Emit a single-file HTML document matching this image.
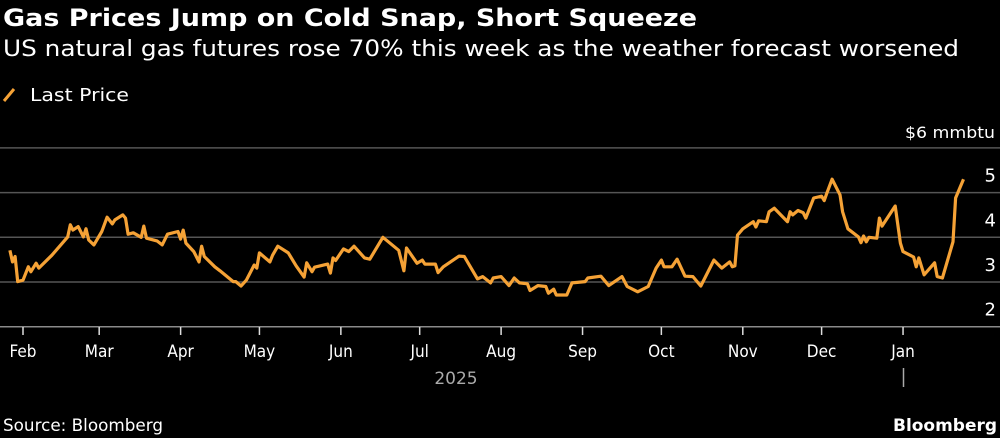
<!DOCTYPE html>
<html><head><meta charset="utf-8"><style>
html,body{margin:0;padding:0;background:#000;width:1000px;height:438px;overflow:hidden;font-family:"Liberation Sans","DejaVu Sans",sans-serif;color:#fff}
svg{position:absolute;left:0;top:0}
</style></head><body>
<svg width="1000" height="438" viewBox="0 0 1000 438">
<text x="3" y="26" font-size="24" font-weight="bold" fill="#fff" font-family="DejaVu Sans, sans-serif" textLength="694" lengthAdjust="spacingAndGlyphs">Gas Prices Jump on Cold Snap, Short Squeeze</text>
<text x="3" y="56" font-size="22" fill="#fff" font-family="DejaVu Sans, sans-serif" textLength="956" lengthAdjust="spacingAndGlyphs">US natural gas futures rose 70% this week as the weather forecast worsened</text>
<g>
<line x1="4" y1="101" x2="14" y2="89" stroke="#f5a236" stroke-width="3"/>
<text x="30" y="101" font-size="18" fill="#fff" font-family="DejaVu Sans, sans-serif" textLength="99" lengthAdjust="spacingAndGlyphs">Last Price</text>
</g>
<text x="905" y="138" font-size="16" fill="#fff" font-family="DejaVu Sans, sans-serif" textLength="90" lengthAdjust="spacingAndGlyphs">$6 mmbtu</text>
<g id="grid"></g>
<g id="yl"></g>
<g id="xl"></g>
<path id="line" fill="none" stroke="#f5a236" stroke-width="3.2" stroke-linejoin="round"/>
<text x="456" y="384" font-size="17" fill="#aaa" text-anchor="middle" font-family="DejaVu Sans, sans-serif">2025</text>
<line x1="903.5" y1="368" x2="903.5" y2="387" stroke="#aaa" stroke-width="1.5"/>
<text x="3" y="431" font-size="17" fill="#fff" font-family="DejaVu Sans, sans-serif" textLength="160" lengthAdjust="spacingAndGlyphs">Source: Bloomberg</text>
<text x="893" y="431" font-size="17" font-weight="bold" fill="#fff" font-family="DejaVu Sans, sans-serif" textLength="104" lengthAdjust="spacingAndGlyphs">Bloomberg</text>
</svg>
<script>
const monthLabels=["Feb","Mar","Apr","May","Jun","Jul","Aug","Sep","Oct","Nov","Dec","Jan"];
const monthDays=[0,29,60,90,121,151,182,213,243,274,304,335];
const yTicks=[2,3,4,5,6];
const days=[-5,-4,-3,-2,0,2,3,5,6,11,17,18,19,21,23,24,25,27,30,32,34,35,38,39,40,42,45,46,47,51,53,55,59,60,61,62,65,67,68,69,73,75,80,81,83,85,88,89,90,94,95,97,101,104,107,108,110,111,116,117,118,119,122,124,126,130,132,137,143,145,146,150,152,153,157,158,160,166,168,173,175,178,179,182,185,187,189,192,193,196,199,200,202,203,207,209,214,215,220,223,228,230,234,238,241,243,244,247,249,252,255,258,263,266,269,270,271,272,274,278,279,280,283,284,286,291,292,293,295,297,298,301,304,305,306,308,311,312,314,318,319,320,321,322,325,326,327,332,334,335,339,340,341,343,347,348,350,354,355,358];
const prices=[3.71,3.45,3.57,3.01,3.04,3.34,3.23,3.42,3.31,3.60,4.01,4.28,4.16,4.24,4.01,4.19,3.94,3.83,4.13,4.45,4.30,4.39,4.50,4.43,4.07,4.10,4.00,4.25,3.98,3.92,3.83,4.07,4.13,3.96,4.16,3.87,3.68,3.45,3.80,3.57,3.34,3.25,3.01,3.01,2.91,3.04,3.38,3.31,3.65,3.45,3.60,3.80,3.65,3.36,3.11,3.43,3.23,3.33,3.40,3.20,3.54,3.48,3.74,3.68,3.80,3.54,3.51,4.00,3.71,3.25,3.76,3.42,3.49,3.40,3.40,3.21,3.34,3.58,3.57,3.07,3.12,2.98,3.09,3.12,2.92,3.09,2.98,2.96,2.81,2.92,2.90,2.75,2.84,2.71,2.71,2.98,3.01,3.09,3.13,2.92,3.12,2.90,2.78,2.90,3.31,3.49,3.34,3.34,3.51,3.13,3.12,2.91,3.49,3.31,3.45,3.34,3.36,4.05,4.19,4.35,4.23,4.37,4.35,4.57,4.65,4.35,4.57,4.50,4.60,4.55,4.43,4.88,4.92,4.82,4.99,5.30,4.95,4.57,4.19,4.01,3.88,4.03,3.90,4.00,3.98,4.43,4.25,4.70,3.87,3.68,3.56,3.34,3.54,3.16,3.43,3.12,3.09,3.90,4.88,5.30];
const X=d=>23+d*2.627;
const Y=v=>326.7-(v-2)*44.7;
const NS="http://www.w3.org/2000/svg";
const grid=document.getElementById('grid'),yl=document.getElementById('yl'),xl=document.getElementById('xl');
yTicks.forEach(v=>{
  const l=document.createElementNS(NS,'line');
  l.setAttribute('x1',0);l.setAttribute('x2',1000);l.setAttribute('y1',Y(v));l.setAttribute('y2',Y(v));
  l.setAttribute('stroke',v===2?'#8a8a8a':'#555');l.setAttribute('stroke-width',1.5);
  
  
  grid.appendChild(l);
  if(v<6){
    const t=document.createElementNS(NS,'text');
    t.setAttribute('x',996);t.setAttribute('y',Y(v)-11);t.setAttribute('text-anchor','end');
    t.setAttribute('font-size',18);t.setAttribute('fill','#fff');t.setAttribute('font-family','DejaVu Sans, sans-serif');
    t.textContent=v;
    
    
    yl.appendChild(t);
  }
});
monthDays.forEach((d,i)=>{
  const x=X(d);
  const l=document.createElementNS(NS,'line');
  l.setAttribute('x1',x);l.setAttribute('x2',x);l.setAttribute('y1',327);l.setAttribute('y2',335);
  l.setAttribute('stroke','#ddd');l.setAttribute('stroke-width',1.5);
  
  
  xl.appendChild(l);
  const t=document.createElementNS(NS,'text');
  t.setAttribute('x',x);t.setAttribute('y',357);t.setAttribute('text-anchor','middle');
  t.setAttribute('font-size',17);t.setAttribute('fill','#fff');t.setAttribute('font-family','DejaVu Sans Condensed, DejaVu Sans, sans-serif');
  t.textContent=monthLabels[i];
  
  
  xl.appendChild(t);
});
document.getElementById('line').setAttribute('d',days.map((d,i)=>(i?'L':'M')+X(d).toFixed(1)+' '+Y(prices[i]).toFixed(1)).join(' '));
</script>
</body></html>
